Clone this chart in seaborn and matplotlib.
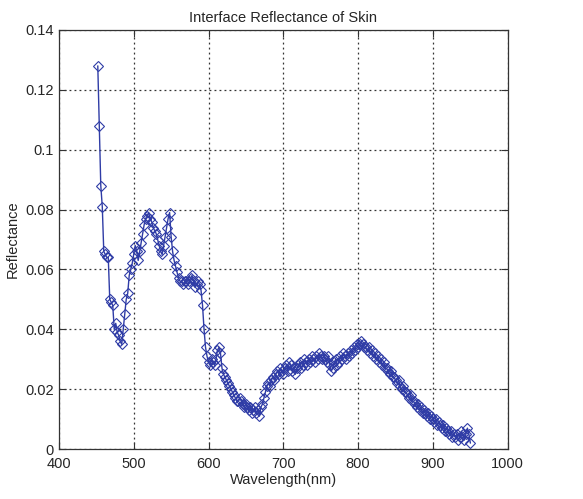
import matplotlib
matplotlib.use("Agg")
import matplotlib.pyplot as plt
import seaborn as sns
import pandas as pd

# wavelength (nm) and reflectance
wl_blue = [452, 454, 456, 458, 460, 462, 464, 466, 468, 470, 472, 474, 476, 478, 480,
           482, 484, 486, 488, 490, 492, 494, 496, 498, 500, 502, 504, 506, 508, 510,
           512, 514, 516, 518, 520, 522, 524, 526, 528, 530, 532, 534, 536, 538, 540,
           542, 544, 546, 548, 550, 552, 554, 556, 558, 560, 562, 564, 566, 568, 570,
           572, 574, 576, 578, 580, 582, 584, 586, 588, 590, 592, 594, 596, 598]
refl_blue = [0.128, 0.108, 0.088, 0.081, 0.066, 0.065, 0.064, 0.064, 0.050, 0.049,
             0.048, 0.040, 0.042, 0.039, 0.038, 0.036, 0.035, 0.040, 0.045, 0.050,
             0.052, 0.058, 0.060, 0.062, 0.065, 0.068, 0.066, 0.063, 0.066, 0.069,
             0.072, 0.075, 0.077, 0.078, 0.079, 0.077, 0.076, 0.074, 0.073, 0.072,
             0.070, 0.068, 0.066, 0.065, 0.068, 0.071, 0.074, 0.077, 0.079, 0.071,
             0.066, 0.063, 0.061, 0.059, 0.057, 0.056, 0.056, 0.055, 0.056, 0.056,
             0.055, 0.056, 0.057, 0.058, 0.056, 0.054, 0.055, 0.056, 0.055, 0.053,
             0.048, 0.040, 0.034, 0.031]

wl_red = [600, 602, 604, 606, 608, 610, 612, 614, 616, 618, 620, 622, 624, 626, 628,
          630, 632, 634, 636, 638, 640, 642, 644, 646, 648, 650, 652, 654, 656, 658,
          660, 662, 664, 666, 668, 670, 672, 674, 676, 678, 680, 682, 684, 686, 688,
          690, 692, 694, 696, 698, 700, 702, 704, 706, 708, 710, 712, 714, 716, 718,
          720, 722, 724, 726, 728, 730, 732, 734, 736, 738, 740, 742, 744, 746, 748,
          750, 752, 754, 756, 758, 760, 762, 764, 766, 768, 770, 772, 774, 776, 778]
refl_red = [0.029, 0.028, 0.030, 0.029, 0.028, 0.030, 0.033, 0.034, 0.032, 0.027,
            0.025, 0.024, 0.023, 0.022, 0.021, 0.020, 0.019, 0.018, 0.017, 0.016,
            0.016, 0.017, 0.016, 0.015, 0.014, 0.015, 0.014, 0.013, 0.014, 0.012,
            0.013, 0.014, 0.012, 0.013, 0.011, 0.014, 0.015, 0.017, 0.019, 0.021,
            0.022, 0.021, 0.023, 0.024, 0.023, 0.025, 0.026, 0.025, 0.027, 0.026,
            0.025, 0.027, 0.028, 0.026, 0.029, 0.028, 0.026, 0.027, 0.025, 0.027,
            0.028, 0.029, 0.027, 0.028, 0.030, 0.029, 0.028, 0.030, 0.029, 0.031,
            0.030, 0.029, 0.031, 0.030, 0.032, 0.031, 0.030, 0.031, 0.030, 0.029,
            0.031, 0.028, 0.026, 0.027, 0.029, 0.030, 0.028, 0.029, 0.031, 0.030]

wl_nir = [780, 782, 784, 786, 788, 790, 792, 794, 796, 798, 800, 802, 804, 806, 808,
          810, 812, 814, 816, 818, 820, 822, 824, 826, 828, 830, 832, 834, 836, 838,
          840, 842, 844, 846, 848, 850, 852, 854, 856, 858, 860, 862, 864, 866, 868,
          870, 872, 874, 876, 878, 880, 882, 884, 886, 888, 890, 892, 894, 896, 898,
          900, 902, 904, 906, 908, 910, 912, 914, 916, 918, 920, 922, 924, 926, 928,
          930, 932, 934, 936, 938, 940, 942, 944, 946, 948, 950]
refl_nir = [0.032, 0.031, 0.030, 0.032, 0.031, 0.033, 0.032, 0.034, 0.033, 0.035,
            0.034, 0.035, 0.036, 0.035, 0.034, 0.034, 0.033, 0.034, 0.032, 0.033,
            0.031, 0.032, 0.030, 0.031, 0.029, 0.030, 0.028, 0.029, 0.027, 0.027,
            0.026, 0.025, 0.026, 0.024, 0.024, 0.023, 0.022, 0.023, 0.021, 0.020,
            0.021, 0.019, 0.019, 0.018, 0.017, 0.018, 0.016, 0.016, 0.015, 0.014,
            0.015, 0.013, 0.014, 0.012, 0.013, 0.012, 0.011, 0.012, 0.010, 0.011,
            0.010, 0.009, 0.010, 0.008, 0.009, 0.008, 0.007, 0.008, 0.006, 0.007,
            0.006, 0.005, 0.006, 0.004, 0.005, 0.004, 0.005, 0.003, 0.004, 0.006,
            0.005, 0.003, 0.005, 0.007, 0.005, 0.002]

df = pd.DataFrame({
    "wavelength": wl_blue + wl_red + wl_nir,
    "reflectance": refl_blue + refl_red + refl_nir,
})

xticks = [400, 500, 600, 700, 800, 900, 1000]
yticks = [0, 0.02, 0.04, 0.06, 0.08, 0.1, 0.12, 0.14]
ylabels = ["0", "0.02", "0.04", "0.06", "0.08", "0.1", "0.12", "0.14"]

sns.set_style("ticks")
plt.rcParams["font.family"] = ["Liberation Sans", "DejaVu Sans"]

fig = plt.figure(figsize=(5.83, 4.99), dpi=100)
ax = fig.add_axes([0.101, 0.1, 0.770, 0.840])

sns.lineplot(data=df, x="wavelength", y="reflectance", ax=ax, sort=False,
             color="#2f3ca6", linewidth=1.0, marker="D", markersize=5.5,
             markerfacecolor="none", markeredgecolor="#2f3ca6", markeredgewidth=0.8)

ax.set_xlim(400, 1000)
ax.set_ylim(0, 0.14)
ax.set_xticks(xticks)
ax.set_xticklabels([str(t) for t in xticks])
ax.set_yticks(yticks)
ax.set_yticklabels(ylabels)
ax.grid(True, linestyle=(0, (1.5, 2.5)), color="#333333", linewidth=0.9)
ax.tick_params(direction="in", top=True, right=True, labelsize=10.5, length=5,
               color="#333333")
ax.tick_params(axis="x", pad=6)
for s in ax.spines.values():
    s.set_color("#333333")
    s.set_linewidth(0.9)

ax.set_title("Interface Reflectance of Skin", fontsize=10.5, pad=6)
ax.set_xlabel("Wavelength(nm)", fontsize=10.5, labelpad=1)
ax.set_ylabel("Reflectance", fontsize=10.5, labelpad=4)

plt.savefig("out.png", dpi=100)
